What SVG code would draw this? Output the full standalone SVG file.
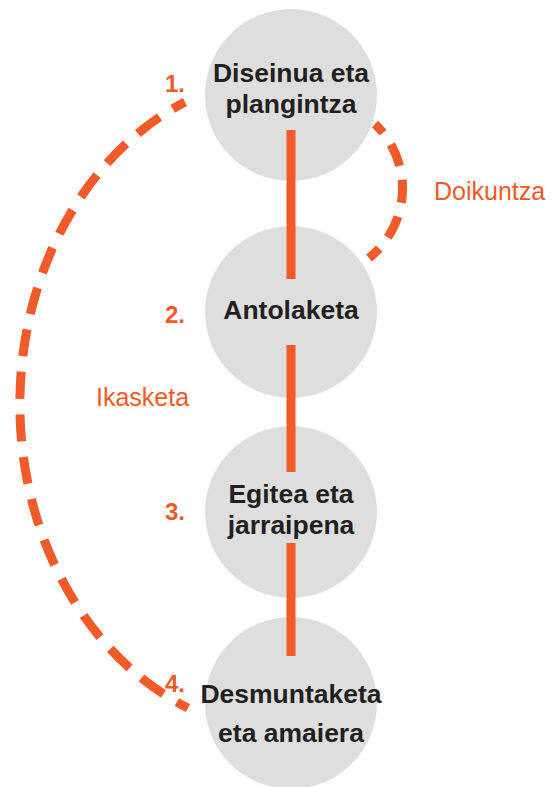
<svg xmlns="http://www.w3.org/2000/svg" width="552" height="787" viewBox="0 0 552 787">
<style>
.node circle{fill:#dedede}
.lbl{font-family:"Liberation Sans",Arial,sans-serif;font-weight:bold;font-size:26.5px;fill:#231f20;text-anchor:middle}
.num{font-family:"Liberation Sans",Arial,sans-serif;font-weight:bold;font-size:24px;fill:#f15a29}
.side{font-family:"Liberation Sans",Arial,sans-serif;font-size:25px;fill:#f15a29}
.solid{stroke:#f15a29;stroke-width:9;fill:none}
.dash{stroke:#f15a29;stroke-width:9;fill:none}
</style>
<rect width="552" height="787" fill="#ffffff"/>
<g id="node1" class="node">
<circle cx="291" cy="95" r="86"/>
<text class="lbl" x="291" y="82">Diseinua eta</text>
<text class="lbl" x="291" y="113">plangintza</text>
</g>
<g id="node2" class="node">
<circle cx="291" cy="312" r="86"/>
<text class="lbl" x="291" y="319">Antolaketa</text>
</g>
<g id="node3" class="node">
<circle cx="291" cy="512" r="86"/>
<text class="lbl" x="291" y="503">Egitea eta</text>
<text class="lbl" x="291" y="534">jarraipena</text>
</g>
<g id="node4" class="node">
<circle cx="291" cy="703" r="86"/>
<text class="lbl" x="291" y="703">Desmuntaketa</text>
<text class="lbl" x="291" y="742">eta amaiera</text>
</g>
<g id="connectors">
<line class="solid" x1="291" y1="130" x2="291" y2="279"/>
<line class="solid" x1="291" y1="345" x2="291" y2="472"/>
<line class="solid" x1="291" y1="543" x2="291" y2="656"/>
<path class="dash" d="M 185 102 A 273 329 0 0 0 188 708" pathLength="723" stroke-dasharray="27 15.55" stroke-dashoffset="13"/>
<path class="dash" d="M 375 124 A 89 89 0 0 1 369 258" pathLength="151" stroke-dasharray="23 14" stroke-dashoffset="11"/>
</g>
<g id="labels">
<text class="num" x="165" y="92">1.</text>
<text class="num" x="165" y="323">2.</text>
<text class="num" x="165" y="520">3.</text>
<text class="num" x="165" y="692">4.</text>
<text class="side" x="434" y="200">Doikuntza</text>
<text class="side" x="96" y="406">Ikasketa</text>
</g>
</svg>
